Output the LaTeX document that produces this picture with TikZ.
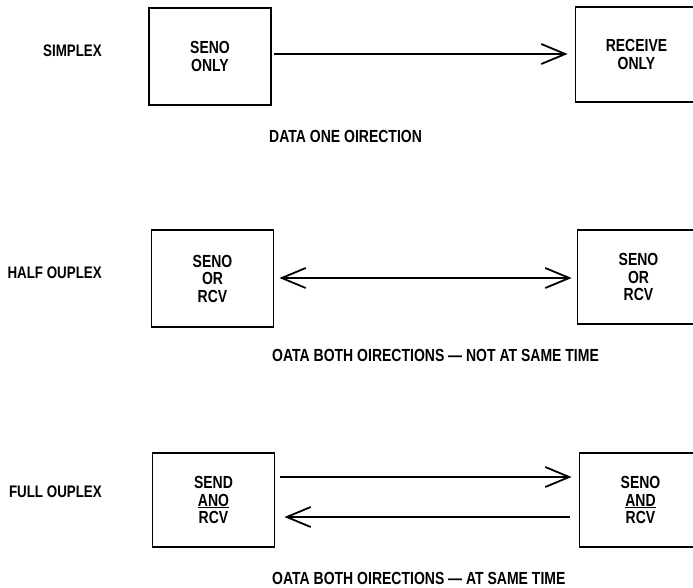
\documentclass[tikz,border=0pt]{standalone}
\usepackage{fontspec}
\setmainfont{Liberation Sans}[FakeStretch=0.8]
\usetikzlibrary{arrows.meta}
\tikzset{
  every node/.style={font=\fontsize{17.5}{17.5}\selectfont\bfseries},
  unit/.style={draw, line width=1.8pt, minimum width=122pt, inner sep=0pt, align=center},
  lbl/.style={anchor=east, inner sep=0pt, font=\fontsize{16.7}{17}\selectfont\bfseries},
  captext/.style={anchor=west, inner sep=0pt},
  bigtip/.tip={Straight Barb[length=24pt, width=20pt, line width=1.8pt]},
  arr/.style={line width=1.8pt}
}
\begin{document}
\begin{tikzpicture}[x=1pt, y=-1pt]
\useasboundingbox (0,0) rectangle (693,588);
% simplex
\node[unit, minimum height=97pt] (sl) at (210,56.5) {SENO\\ONLY};
\node[unit, minimum height=95pt] (sr) at (636.5,54.5) {RECEIVE\\ONLY};
\node[lbl] (ls) at (102,51) {SIMPLEX};
\node[captext] (cs) at (269,136) {DATA ONE OIRECTION};
\draw[arr, -{bigtip}, shorten <=2pt, shorten >=7pt] ([yshift=2.5pt]sl.east) -- ([yshift=0.5pt]sr.west);
% half duplex
\node[unit, minimum height=97pt] (hl) at (212.5,278.5) {SENO\\OR\\RCV};
\node[unit, minimum height=94pt] (hr) at (638.5,277) {SENO\\OR\\RCV};
\node[lbl] (lh) at (102,273) {HALF OUPLEX};
\node[captext] (ch) at (272,355) {OATA BOTH OIRECTIONS — NOT AT SAME TIME};
\draw[arr, {bigtip}-{bigtip}, shorten <=5pt, shorten >=5pt] ([yshift=0.5pt]hl.east) -- ([yshift=-1pt]hr.west);
% full duplex
\node[unit, minimum height=94pt] (fl) at (213.5,500) {SEND\\\underline{ANO}\\RCV};
\node[unit, minimum height=94pt] (fr) at (640.5,500) {SENO\\\underline{AND}\\RCV};
\node[lbl] (lf) at (102,492) {FULL OUPLEX};
\node[captext] (cf) at (272,578) {OATA BOTH OIRECTIONS — AT SAME TIME};
\draw[arr, -{bigtip}, shorten <=5pt, shorten >=7pt] ([yshift=23pt]fl.east) -- ([yshift=23pt]fr.west);
\draw[arr, {bigtip}-, shorten <=9pt, shorten >=9pt] ([yshift=-17pt]fl.east) -- ([yshift=-17pt]fr.west);
\end{tikzpicture}
\end{document}
